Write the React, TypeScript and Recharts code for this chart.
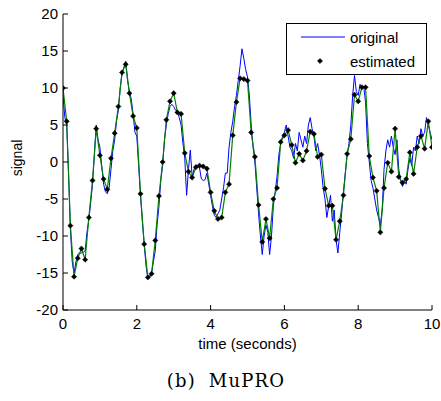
import React from "react";
import { LineChart, Line, XAxis, YAxis } from "recharts";

// sampling: original every 0.05 s, estimated every 0.1 s
const ORIGINAL_STEP = 0.05;
const ESTIMATED_STEP = 0.1;

const X_TICKS = [0, 2, 4, 6, 8, 10];
const Y_TICKS = [-20, -15, -10, -5, 0, 5, 10, 15, 20];

// one row = 0.5 s
const original = [
  9.0, 6.0, 5.0, -1.5, -9.0, -13.5, -15.0, -13.5, -12.5, -12.3,
  -12.3, -12.2, -12.0, -9.5, -7.8, -5.5, -3.0, 1.0, 5.0, 3.0,
  2.0, -0.5, -3.0, -4.0, -4.3, -3.5, -1.0, 1.5, 3.0, 5.5,
  7.0, 10.0, 12.0, 12.8, 13.6, 11.0, 9.5, 8.5, 6.5, 4.0,
  3.5, -0.5, -4.5, -8.0, -11.0, -14.0, -15.8, -15.6, -15.0, -13.5,
  -12.0, -8.5, -6.0, -2.5, -0.5, 3.0, 5.0, 6.5, 7.5, 7.8,
  7.5, 7.0, 6.8, 6.0, 5.0, 2.5, 0.5, -4.5, -1.0, 1.6,
  -2.0, -1.0, -0.4, -0.5, -0.8, -2.3, -2.5, -2.4, -1.5, -3.0,
  -4.5, -6.0, -7.2, -7.5, -7.0, -6.5, -5.0, -3.5, -1.5, -1.5,
  2.0, 4.0, 5.5, 7.5, 9.0, 11.0, 13.0, 15.3, 14.0, 12.5,
  11.5, 9.0, 5.0, 2.0, 0.0, -3.5, -7.0, -10.0, -12.5, -10.0,
  -8.5, -9.5, -12.5, -10.0, -6.0, -4.0, -2.0, 1.0, 2.5, 3.5,
  4.0, 5.0, 3.5, 2.0, 1.5, 0.5, 2.5, 1.5, 4.0, 3.0,
  2.0, 3.5, 2.5, 5.0, 6.0, 4.5, 3.5, 1.5, 2.5, 1.0,
  -1.0, -3.5, -5.0, -7.5, -6.0, -4.5, -8.0, -6.5, -10.5, -12.3,
  -9.5, -7.0, -4.0, -1.5, 1.0, 2.5, 5.0, 9.0, 11.7, 9.5,
  9.0, 10.5, 10.0, 10.2, 8.0, 2.5, 0.0, -2.5, -3.5, -5.0,
  -6.5, -7.5, -8.5, -6.5, -1.0, 1.5, 3.0, 2.0, 3.5, 2.0,
  1.0, 3.0, -1.0, -2.5, -3.3, -2.5, -3.0, -1.0, 0.5, -0.5,
  2.0, 1.5, 3.5, 2.5, 4.5, 3.5, 4.0, 6.0, 5.0, 4.0,
  3.0,
];

// one row = 1 s
const estimated = [
  10, 5.5, -8.6, -15.5, -13, -11.7, -13.2, -7.5, -2.5, 4.5,
  0.9, -2.3, -3.7, 0.5, 3.9, 7.5, 12.1, 13.2, 9.3, 6.2,
  4.6, -4.3, -11.1, -15.6, -15.1, -10.6, -4.6, 0, 5.7, 8.2,
  9.3, 6.7, 6.5, 1.2, -1.3, -2.1, -0.7, -0.5, -0.6, -0.9,
  -4.1, -6.6, -7.7, -7.5, -4.1, -3, 3.6, 8.1, 11.3, 11.2,
  11.0, 4.0, 0.7, -5.8, -10.8, -7.7, -10.3, -5, -3.5, 2.7,
  3.6, 4.3, 2.3, -0.1, 1.1, 0.2, 1.5, 4.1, 3.8, 0.7,
  1.0, -3.6, -5.9, -5.9, -10.5, -8, -4.5, 1.1, 3.1, 9.1,
  8.2, 10.1, 10.1, 0.8, -2.1, -3.9, -9.5, -3.5, -0.1, -1.3,
  4.5, -2.0, -2.8, -2.3, 1.3, -1.6, 2.0, 3.5, 1.8, 5.5,
  2.0,
];

const originalRows = original.map((v, i) => ({ t: +(i * ORIGINAL_STEP).toFixed(2), original: v }));
const estimatedRows = estimated.map((v, i) => ({ t: +(i * ESTIMATED_STEP).toFixed(2), estimated: v }));

const SANS = "'Liberation Sans', Arial, sans-serif";
const BLUE = "#0000ff";
const GREEN = "#008000";
const TICK_LEN = 5;

function BottomTick({ x, y, payload }: any) {
  return (
    <g>
      <line x1={x} y1={y} x2={x} y2={y - TICK_LEN} stroke="#000" />
      <text x={x} y={y + 19} textAnchor="middle" fontSize={15} fontFamily={SANS} fill="#000">
        {payload.value}
      </text>
    </g>
  );
}

function TopTick({ x, y }: any) {
  return <line x1={x} y1={y} x2={x} y2={y + TICK_LEN} stroke="#000" />;
}

function LeftTick({ x, y, payload }: any) {
  return (
    <g>
      <line x1={x} y1={y} x2={x + TICK_LEN} y2={y} stroke="#000" />
      <text x={x - 5} y={y} dy="0.36em" textAnchor="end" fontSize={15} fontFamily={SANS} fill="#000">
        {payload.value}
      </text>
    </g>
  );
}

function RightTick({ x, y }: any) {
  return <line x1={x} y1={y} x2={x - TICK_LEN} y2={y} stroke="#000" />;
}

function XTitle({ viewBox }: any) {
  const { x, y, width } = viewBox;
  return (
    <text x={x + width / 2} y={y + 39} textAnchor="middle" fontSize={15} fontFamily={SANS} fill="#000">
      time (seconds)
    </text>
  );
}

function YTitle({ viewBox }: any) {
  const { y, height } = viewBox;
  const cy = y + height / 2 - 4;
  return (
    <text x={22} y={cy} transform={`rotate(-90 22 ${cy})`} textAnchor="middle" fontSize={14} fontFamily={SANS} fill="#000">
      signal
    </text>
  );
}

function Diamond({ cx, cy, index }: any) {
  if (cx == null || cy == null) return <g key={index} />;
  const r = 2.6;
  return (
    <polygon
      key={index}
      points={`${cx},${cy - r} ${cx + r},${cy} ${cx},${cy + r} ${cx - r},${cy}`}
      fill="#000"
      stroke="#000"
      strokeWidth={0.5}
    />
  );
}

function LegendBox() {
  return (
    <svg width={141} height={52} style={{ position: "absolute", left: 286, top: 23 }}>
      <rect x={0.5} y={0.5} width={140} height={51} fill="#fff" stroke="#000" />
      <line x1={15} y1={14} x2={59} y2={14} stroke={BLUE} strokeWidth={1.2} />
      <text x={64} y={20} fontSize={15} fontFamily={SANS} fill="#000">original</text>
      <Diamond cx={34} cy={38} index={0} />
      <text x={64} y={44} fontSize={15} fontFamily={SANS} fill="#000">estimated</text>
    </svg>
  );
}

export default function App() {
  return (
    <div style={{ position: "absolute", left: 0, top: 0, width: 441, height: 401, background: "#fff" }}>
      <LineChart width={441} height={401} margin={{ top: 14, right: 9, left: 0, bottom: 61 }}>
        <XAxis
          dataKey="t"
          type="number"
          domain={[0, 10]}
          ticks={X_TICKS}
          allowDataOverflow
          height={30}
          tickSize={0}
          tickMargin={0}
          tickLine={false}
          axisLine={{ stroke: "#000" }}
          tick={<BottomTick />}
          interval={0}
          label={<XTitle />}
        />
        <XAxis
          xAxisId="top"
          orientation="top"
          type="number"
          domain={[0, 10]}
          ticks={X_TICKS}
          allowDataOverflow
          height={0}
          tickSize={0}
          tickMargin={0}
          tickLine={false}
          axisLine={{ stroke: "#000" }}
          tick={<TopTick />}
          interval={0}
        />
        <YAxis
          type="number"
          domain={[-20, 20]}
          ticks={Y_TICKS}
          allowDataOverflow
          width={63}
          tickSize={0}
          tickMargin={0}
          tickLine={false}
          axisLine={{ stroke: "#000" }}
          tick={<LeftTick />}
          interval={0}
          label={<YTitle />}
        />
        <YAxis
          yAxisId="right"
          orientation="right"
          type="number"
          domain={[-20, 20]}
          ticks={Y_TICKS}
          allowDataOverflow
          width={0}
          tickSize={0}
          tickMargin={0}
          tickLine={false}
          axisLine={{ stroke: "#000" }}
          tick={<RightTick />}
          interval={0}
        />
        <Line
          data={originalRows}
          dataKey="original"
          type="linear"
          stroke={BLUE}
          strokeWidth={1}
          dot={false}
          isAnimationActive={false}
        />
        <Line
          data={estimatedRows}
          dataKey="estimated"
          type="linear"
          stroke={GREEN}
          strokeWidth={1.2}
          dot={(p: any) => <Diamond key={p.index} {...p} />}
          isAnimationActive={false}
        />
      </LineChart>
      <LegendBox />
      <div
        style={{
          position: "absolute",
          left: 0,
          top: 370,
          width: 452,
          textAlign: "center",
          fontFamily: "'DejaVu Serif', serif",
          fontSize: 18,
          letterSpacing: 1.2,
          wordSpacing: 6,
          color: "#000",
        }}
      >
        (b) MuPRO
      </div>
    </div>
  );
}
